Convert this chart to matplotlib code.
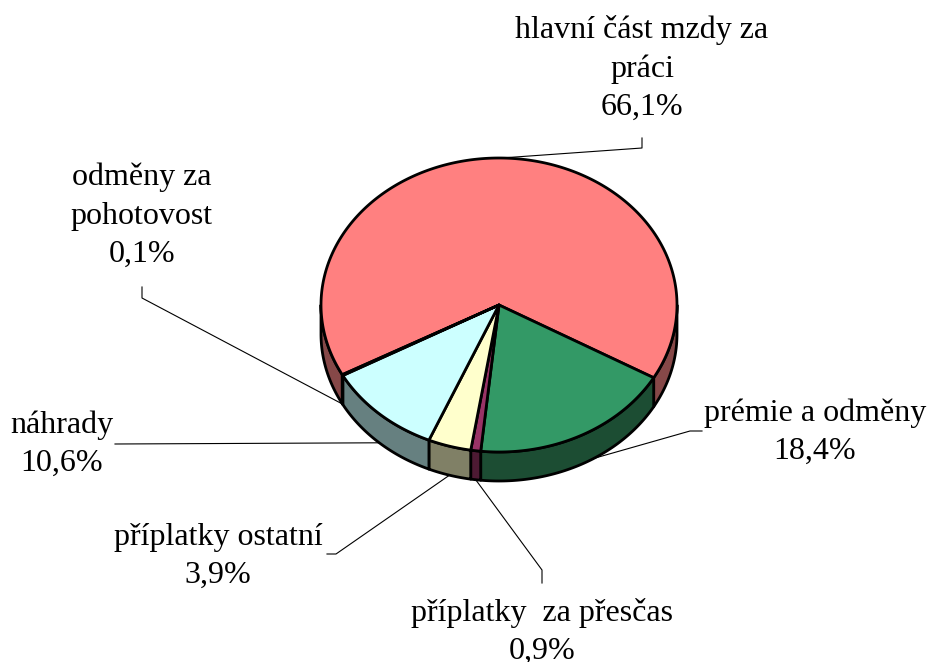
import numpy as np
import matplotlib
matplotlib.use("Agg")
import matplotlib.pyplot as plt
from matplotlib.patches import Polygon

# data (clockwise order, as drawn)
labels = ["hlavní část mzdy za\npráci", "prémie a odměny", "příplatky  za přesčas",
          "příplatky ostatní", "náhrady", "odměny za\npohotovost"]
shares = [66.1, 18.4, 0.9, 3.9, 10.6, 0.1]
pct_text = ["66,1%", "18,4%", "0,9%", "3,9%", "10,6%", "0,1%"]

top_cols = ["#FF8080", "#339966", "#993366", "#FFFFCC", "#CCFFFF", "#660066"]
side_cols = ["#864848", "#1C4D33", "#4D1A33", "#808066", "#668080", "#330033"]

# layout (pixels)
cx, cy, rx, ry, depth = 499, 305, 178, 147, 29
start = 208.3
lw = 2.0

# label positions (x centre, y of first line top) and leader elbows
lab_pos = [(642, 15), (815, 398), (542, 598), (218, 523), (62, 410), (142, 163)]
elbows = [[(642, 138), (642, 148)], [(702, 431), (690, 431)], [(542, 583), (542, 570)],
          [(327, 554), (336, 554)], [(115, 444), (115, 444)], [(142, 287), (142, 298)]]
anchor_depth = [0, 1, 1, 1, 1, 1]
anchor_shift = [0, 5, 0, 0, 0, 0]

fig = plt.figure(figsize=(9.29, 6.62), dpi=100)
ax = fig.add_axes([0, 0, 1, 1])
ax.set_xlim(0, 929)
ax.set_ylim(662, 0)
ax.axis("off")

def pt(t, dz=0):
    r = np.radians(t)
    return cx + rx * np.cos(r), cy - ry * np.sin(r) + dz

angles = [start]
for s in shares:
    angles.append(angles[-1] - s * 3.6)

# side walls (front half only: angles between -180 and 0)
for i in range(len(shares)):
    a1, a2 = angles[i], angles[i + 1]  # a1 > a2
    segs = []
    for off in (0, -360, 360):
        h, l = min(a1 + off, 0), max(a2 + off, -180)
        if h > l:
            segs.append((h, l))
    for h, l in segs:
        ts = np.linspace(h, l, 80)
        top = [pt(t) for t in ts]
        bot = [pt(t, depth) for t in ts[::-1]]
        ax.add_patch(Polygon(top + bot, closed=True, facecolor=side_cols[i],
                             edgecolor="black", lw=lw, joinstyle="round"))

# top faces
for i in range(len(shares)):
    a1, a2 = angles[i], angles[i + 1]
    n = max(int(abs(a1 - a2)), 2)
    ts = np.linspace(a1, a2, n)
    poly = [(cx, cy)] + [pt(t) for t in ts]
    ax.add_patch(Polygon(poly, closed=True, facecolor=top_cols[i],
                         edgecolor="black", lw=lw, joinstyle="round"))

# labels with leader lines
for i in range(len(shares)):
    mid = (angles[i] + angles[i + 1]) / 2 + anchor_shift[i]
    ax_, ay_ = pt(mid, depth * anchor_depth[i])
    (ex1, ey1), (ex2, ey2) = elbows[i]
    ax.plot([ex1, ex2, ax_], [ey1, ey2, ay_], color="black", lw=0.8)
    x, y = lab_pos[i]
    ax.text(x, y, labels[i] + "\n" + pct_text[i], ha="center", va="top",
            fontsize=23, family="Liberation Serif", linespacing=1.42)

fig.savefig("out.png", dpi=100)
